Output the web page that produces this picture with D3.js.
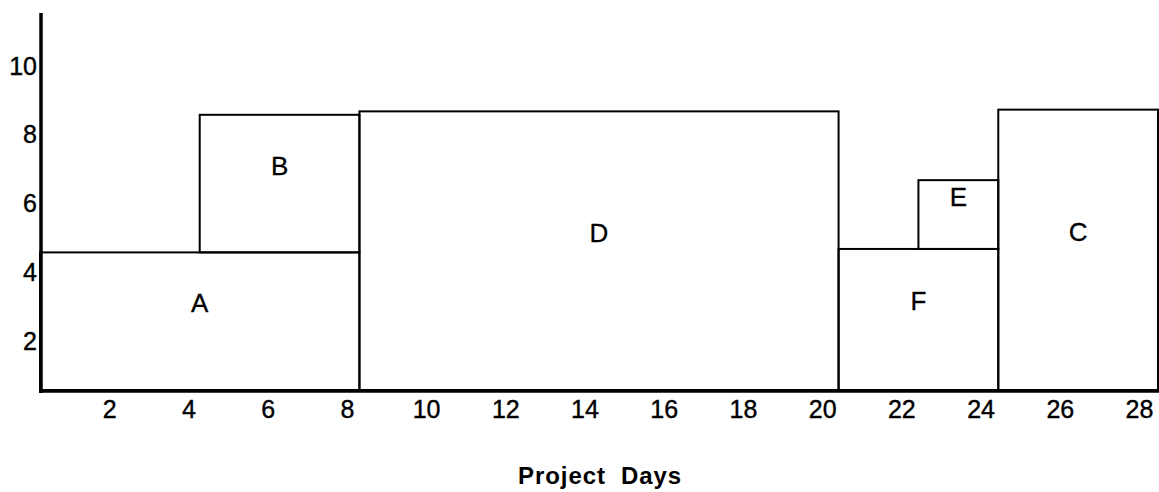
<!DOCTYPE html>
<html>
<head>
<meta charset="utf-8">
<script src="https://cdn.jsdelivr.net/npm/d3@7"></script>
<style>
  html, body { margin: 0; padding: 0; background: #fff; }
  svg { display: block; }
  text { font-family: "Liberation Sans", Arial, sans-serif; fill: #000; }
</style>
</head>
<body>
<svg id="chart" width="1159" height="492"></svg>
<script>
// ---- data ----
const tasks   = ["A", "B", "D", "F", "E", "C"];
const starts  = [0, 4, 8, 20, 22, 24];   // project day
const ends    = [8, 8, 20, 24, 24, 28];  // project day
const bases   = [0, 4, 0, 0, 4.1, 0];    // resource level at bottom
const heights = [4, 4, 8.1, 4.1, 2, 8.15]; // resources used
const xTicks  = [2, 4, 6, 8, 10, 12, 14, 16, 18, 20, 22, 24, 26, 28];
const yTicks  = [2, 4, 6, 8, 10];
const xTitle  = "Project  Days";

const svg = d3.select("#chart");
const x = d3.scaleLinear().domain([0, 28]).range([40, 1158]);
const xLab = d3.scaleLinear().domain([0, 28]).range([30, 1139]);
const y = d3.scaleLinear().domain([0, 11]).range([390, 11.6]);

const data = tasks.map((t, i) => ({ t, s: starts[i], e: ends[i], b: bases[i], h: heights[i] }));

// rectangles
svg.append("g").selectAll("rect").data(data).join("rect")
  .attr("x", d => x(d.s))
  .attr("y", d => y(d.b + d.h))
  .attr("width", d => x(d.e) - x(d.s))
  .attr("height", d => y(d.b) - y(d.b + d.h))
  .attr("fill", "none")
  .attr("stroke", "#000")
  .attr("stroke-width", 2);

// labels
svg.append("g").selectAll("text").data(data).join("text")
  .attr("x", d => (x(d.s) + x(d.e)) / 2)
  .attr("y", d => (y(d.b) + y(d.b + d.h)) / 2 - 18)
  .attr("text-anchor", "middle")
  .attr("dominant-baseline", "central")
  .style("font-size", "26px")
  .style("stroke", "#000").style("stroke-width", "0.3px")
  .text(d => d.t);

// axes
const xAxis = d3.axisBottom(xLab).tickValues(xTicks).tickSize(0).tickPadding(0).tickFormat(d3.format("d"));
const gx = svg.append("g").attr("transform", "translate(0,391)").call(xAxis);
gx.select(".domain").remove();
gx.selectAll("text").attr("y", 27).attr("dy", 0)
  .style("font-size", "25px").style("font-family", "'Liberation Sans', Arial, sans-serif")
  .style("stroke", "#000").style("stroke-width", "0.4px");

const yAxis = d3.axisLeft(y).tickValues(yTicks).tickSize(0).tickPadding(0).tickFormat(d3.format("d"));
const gy = svg.append("g").attr("transform", "translate(37,0)").call(yAxis);
gy.select(".domain").remove();
gy.selectAll("text").attr("x", 0).attr("dy", "0.36em")
  .attr("transform", "translate(0,19)")
  .style("font-size", "25px").style("font-family", "'Liberation Sans', Arial, sans-serif")
  .style("stroke", "#000").style("stroke-width", "0.4px");

svg.append("line").attr("x1", 41).attr("x2", 41).attr("y1", 13).attr("y2", y(0) + 3)
  .attr("stroke", "#000").attr("stroke-width", 3.5);
svg.append("line").attr("x1", 39).attr("x2", 1159).attr("y1", y(0) + 1).attr("y2", y(0) + 1)
  .attr("stroke", "#000").attr("stroke-width", 3.5);

// title
svg.append("text")
  .attr("x", 600).attr("y", 484)
  .attr("text-anchor", "middle")
  .style("font-size", "24px").style("font-weight", "bold")
  .style("white-space", "pre").style("letter-spacing", "0.9px")
  .text(xTitle);
</script>
</body>
</html>
